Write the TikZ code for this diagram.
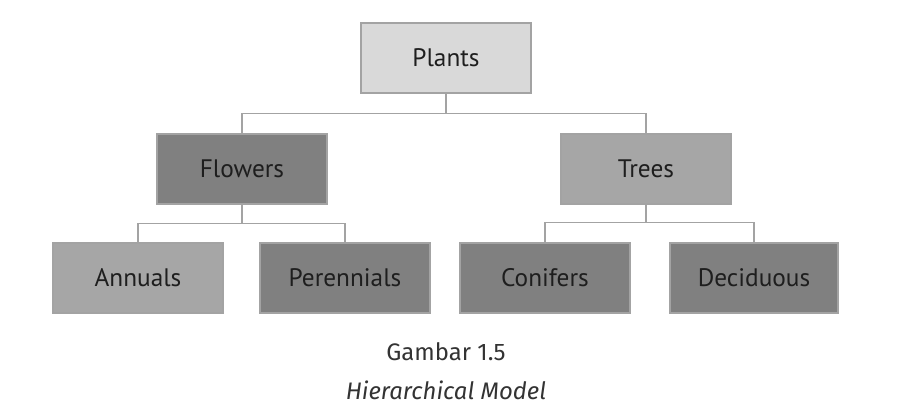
\documentclass[tikz,border=0pt]{standalone}
\usepackage{fontspec}
\setmainfont{PT Sans}
\newfontfamily\capfont{Fira Sans}
\definecolor{boxline}{HTML}{A3A3A3}
\definecolor{lightfill}{HTML}{D9D9D9}
\definecolor{midfill}{HTML}{A6A6A6}
\definecolor{darkfill}{HTML}{808080}
\definecolor{txt}{HTML}{1E1E1E}
\tikzset{
  box/.style={draw=boxline, line width=1.3pt, minimum width=4.25cm,
    minimum height=1.73cm, inner sep=0pt, text=txt,
    font=\fontsize{18}{20}\selectfont},
  conn/.style={draw=boxline, line width=1.3pt},
  caption/.style={text=black!80, font=\capfont\fontsize{17}{20}\selectfont}
}
\begin{document}
\begin{tikzpicture}[x=0.025cm, y=-0.025cm]
    \useasboundingbox (0,0) rectangle (897,420);
    \node[box, fill=lightfill] (plants) at (446,58) {Plants};
    \node[box, fill=darkfill] (flowers) at (242,169) {Flowers};
    \node[box, fill=midfill] (trees) at (646,169) {Trees};
    \node[box, fill=midfill] (annuals) at (138,278) {Annuals};
    \node[box, fill=darkfill] (perennials) at (345,278) {Perennials};
    \node[box, fill=darkfill] (conifers) at (545,278) {Conifers};
    \node[box, fill=darkfill, minimum width=4.2cm] (deciduous) at (754,278) {Deciduous};
    \draw[conn] (plants.south) -- ++(0,20) -| (flowers.north);
    \draw[conn] (plants.south) -- ++(0,20) -| (trees.north);
    \draw[conn] (flowers.south) -- ++(0,19) -| (annuals.north);
    \draw[conn] (flowers.south) -- ++(0,19) -| (perennials.north);
    \draw[conn] (trees.south) -- ++(0,18) -| (conifers.north);
    \draw[conn] (trees.south) -- ++(0,18) -| (deciduous.north);
    \node[caption] (num) at (446,352) {Gambar 1.5};
    \node[caption, font=\capfont\itshape\fontsize{17}{20}\selectfont] (title) at (446,390) {Hierarchical Model};
\end{tikzpicture}
\end{document}
